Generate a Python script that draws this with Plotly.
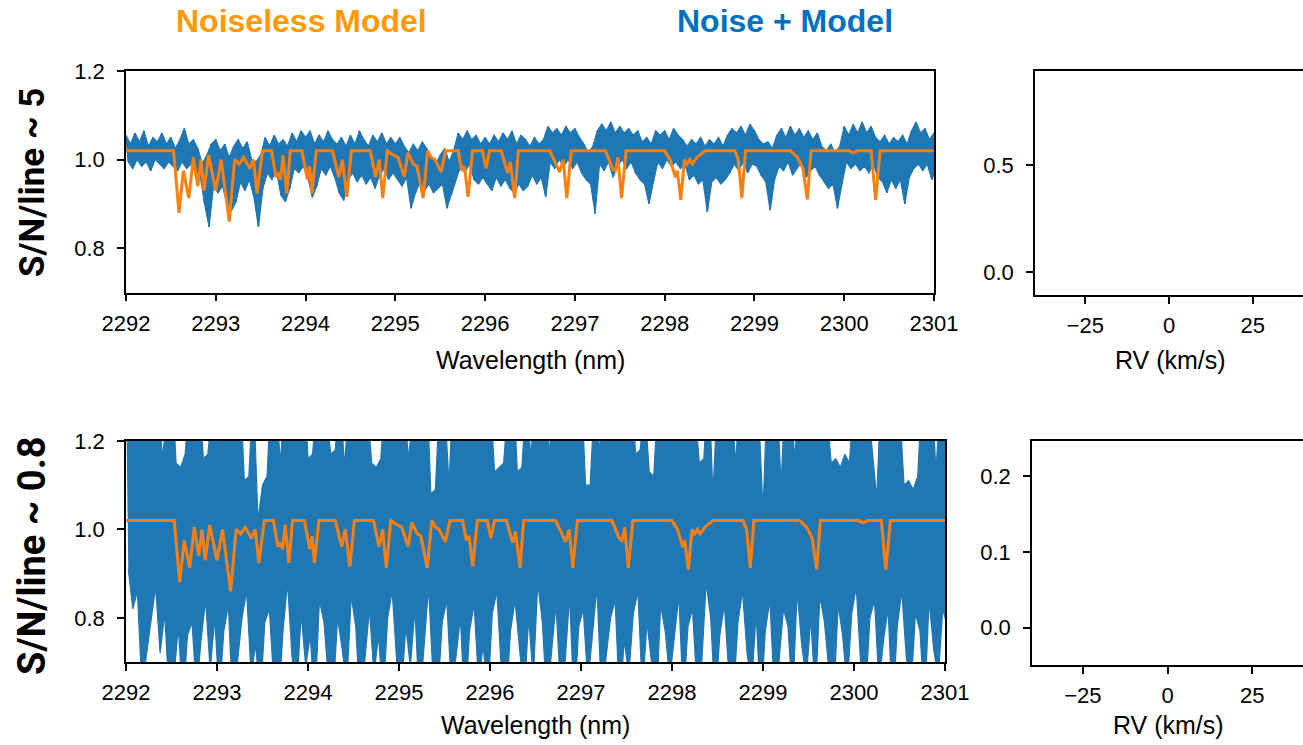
import plotly.graph_objects as go

W, H = 1303, 745

# ---------------- data ----------------
wl_start = 2292.0
env_step = 0.05  # wavelength step of the envelope samples (nm)

# noiseless model: vertices of the orange curve
model_wl = [2292.00, 2292.53, 2292.59, 2292.64, 2292.70, 2292.75, 2292.80, 2292.835, 2292.87, 2292.92,
            2293.00, 2293.06, 2293.15, 2293.21, 2293.26, 2293.31, 2293.38, 2293.42, 2293.46, 2293.52,
            2293.62, 2293.67, 2293.70, 2293.72, 2293.75, 2293.79, 2293.83, 2293.96, 2294.02, 2294.045,
            2294.07, 2294.12, 2294.30, 2294.37, 2294.41, 2294.46, 2294.51, 2294.72, 2294.78, 2294.82,
            2294.86, 2294.91, 2294.98, 2295.03, 2295.10, 2295.14, 2295.20, 2295.24, 2295.31, 2295.36,
            2295.40, 2295.44, 2295.51, 2295.56, 2295.70, 2295.74, 2295.77, 2295.81, 2295.86, 2295.97,
            2296.01, 2296.05, 2296.18, 2296.25, 2296.28, 2296.33, 2296.37, 2296.72, 2296.79, 2296.83,
            2296.87, 2296.91, 2296.96, 2297.34, 2297.42, 2297.45, 2297.48, 2297.52, 2297.57, 2298.00,
            2298.06, 2298.12, 2298.14, 2298.18, 2298.22, 2298.25, 2298.28, 2298.31, 2298.36, 2298.45,
            2298.78, 2298.82, 2298.86, 2298.90, 2299.40, 2299.48, 2299.54, 2299.59, 2299.63, 2300.05,
            2300.10, 2300.15, 2300.30, 2300.35, 2300.40, 2301.00]
model_flux = [1.02, 1.02, 0.88, 0.975, 0.913, 1.005, 0.94, 1.0, 0.93, 1.01,
              0.93, 1.0, 0.86, 1.0, 0.99, 1.005, 0.98, 1.0, 0.924, 1.02,
              1.02, 0.961, 0.97, 0.955, 1.01, 0.924, 1.02, 1.02, 0.955, 0.985,
              0.924, 1.02, 1.02, 0.961, 1.0, 0.916, 1.02, 1.02, 0.961, 1.0,
              0.913, 1.02, 1.01, 1.005, 0.961, 1.015, 0.99, 0.985, 0.913, 1.02,
              1.005, 1.0, 0.972, 1.02, 1.02, 0.975, 0.985, 0.916, 1.02, 1.02,
              0.98, 1.02, 1.02, 0.97, 0.995, 0.913, 1.02, 1.02, 0.99, 0.972,
              1.0, 0.913, 1.02, 1.02, 0.98, 0.975, 1.005, 0.913, 1.02, 1.02,
              1.0, 0.96, 0.975, 0.909, 1.0, 0.99, 1.0, 0.99, 1.005, 1.02,
              1.02, 1.0, 0.913, 1.02, 1.02, 1.005, 0.98, 0.91, 1.02, 1.02,
              1.015, 1.02, 1.02, 0.909, 1.02, 1.02]

# noisy spectrum, S/N ~ 5: upper / lower excursions every 0.05 nm
top_upper = [1.055, 1.035, 1.06, 1.04, 1.065, 1.03, 1.05, 1.04, 1.06, 1.035, 1.05, 1.025, 1.045, 1.07, 1.035, 1.045, 1.025, 0.99, 1.01, 1.035,
             1.045, 1.02, 1.035, 1.005, 1.03, 1.045, 1.025, 1.04, 1.0, 0.995, 1.01, 1.05, 1.03, 1.055, 1.035, 1.045, 1.03, 1.06, 1.04, 1.065,
             1.05, 1.065, 1.035, 1.055, 1.04, 1.065, 1.045, 1.035, 1.05, 1.03, 1.055, 1.035, 1.065, 1.045, 1.03, 1.055, 1.04, 1.06, 1.035, 1.05,
             1.035, 1.05, 1.03, 1.015, 1.035, 1.02, 1.04, 1.025, 1.005, 0.99, 1.01, 1.025, 0.995, 1.02, 1.06, 1.045, 1.065, 1.045, 1.055, 1.035,
             1.05, 1.035, 1.055, 1.04, 1.06, 1.045, 1.065, 1.035, 1.055, 1.045, 1.03, 1.05, 1.035, 1.045, 1.075, 1.06, 1.07, 1.055, 1.075, 1.06,
             1.07, 1.05, 1.035, 1.015, 1.03, 1.065, 1.08, 1.065, 1.085, 1.06, 1.075, 1.06, 1.07, 1.055, 1.065, 1.04, 1.05, 1.035, 1.065, 1.055,
             1.065, 1.045, 1.07, 1.055, 1.045, 1.03, 1.045, 1.035, 1.05, 1.03, 1.045, 1.035, 1.05, 1.03, 1.055, 1.07, 1.06, 1.075, 1.055, 1.08,
             1.065, 1.045, 1.035, 1.04, 1.025, 1.055, 1.07, 1.05, 1.075, 1.055, 1.07, 1.05, 1.065, 1.045, 1.06, 1.03, 1.02, 1.035, 1.015, 1.03,
             1.075, 1.055, 1.08, 1.06, 1.085, 1.06, 1.075, 1.05, 1.04, 1.055, 1.035, 1.05, 1.04, 1.055, 1.035, 1.065, 1.085, 1.06, 1.07, 1.045, 1.06]
top_lower = [0.995, 0.98, 1.0, 0.985, 0.995, 0.975, 1.0, 0.99, 0.98, 0.995, 0.985, 0.975, 0.995, 0.98, 0.99, 0.975, 0.965, 0.9, 0.848, 0.94,
             0.925, 0.94, 0.9, 0.885, 0.905, 0.95, 0.93, 0.955, 0.915, 0.848, 0.935, 0.97, 0.955, 0.975, 0.92, 0.905, 0.935, 0.98, 0.97, 0.985,
             0.96, 0.915, 0.94, 0.98, 0.965, 0.985, 0.96, 0.925, 0.908, 0.955, 0.97, 0.95, 0.965, 0.945, 0.96, 0.935, 0.965, 0.98, 0.955, 0.97,
             0.955, 0.94, 0.96, 0.89, 0.925, 0.95, 0.93, 0.945, 0.925, 0.935, 0.945, 0.89, 0.92, 0.955, 0.985, 0.97, 0.99, 0.955, 0.945, 0.96,
             0.945, 0.93, 0.96, 0.94, 0.955, 0.935, 0.925, 0.945, 0.93, 0.94, 0.965, 0.945, 0.96, 0.916, 0.995, 0.98, 1.0, 0.985, 1.0, 0.98,
             0.995, 0.97, 0.955, 0.945, 0.878, 0.99, 0.975, 0.995, 0.96, 0.985, 1.0, 0.98, 0.995, 0.97, 0.955, 0.945, 0.90, 0.95, 0.995, 0.98,
             1.0, 0.985, 0.995, 0.98, 0.99, 0.955, 0.965, 0.945, 0.955, 0.882, 0.95, 0.96, 0.945, 0.955, 0.97, 0.99, 0.975, 0.995, 0.97, 0.99,
             0.985, 0.965, 0.95, 0.886, 0.955, 0.985, 0.975, 0.995, 0.965, 0.98, 0.995, 0.96, 0.975, 0.985, 0.965, 0.95, 0.935, 0.945, 0.89, 0.945,
             0.995, 0.98, 0.99, 0.975, 0.985, 0.97, 0.99, 0.96, 0.95, 0.925, 0.955, 0.935, 0.955, 0.90, 0.96, 0.98, 0.99, 0.975, 0.99, 0.955, 0.975]

# noisy spectrum, S/N ~ 0.8
bot_upper = [1.32, 1.28, 1.35, 1.26, 1.30, 1.38, 1.27, 1.33, 1.16, 1.29, 1.36, 1.15, 1.14, 1.17, 1.31, 1.27, 1.34, 1.16, 1.17, 1.29,
             1.33, 1.26, 1.37, 1.28, 1.30, 1.35, 1.11, 1.12, 1.32, 1.02, 1.10, 1.12, 1.34, 1.27, 1.15, 1.36, 1.29, 1.31, 1.26, 1.38,
             1.16, 1.17, 1.30, 1.34, 1.27, 1.17, 1.18, 1.33, 1.14, 1.29, 1.35, 1.26, 1.32, 1.28, 1.15, 1.14, 1.16, 1.31, 1.37, 1.27,
             1.30, 1.34, 1.16, 1.28, 1.33, 1.26, 1.36, 1.08, 1.09, 1.31, 1.29, 1.10, 1.35, 1.27, 1.32, 1.38, 1.26, 1.30, 1.34, 1.28,
             1.31, 1.13, 1.14, 1.15, 1.29, 1.36, 1.13, 1.14, 1.30, 1.16, 1.33, 1.27, 1.35, 1.17, 1.28, 1.31, 1.37, 1.26, 1.32, 1.29,
             1.34, 1.10, 1.10, 1.30, 1.18, 1.27, 1.36, 1.29, 1.33, 1.26, 1.31, 1.35, 1.17, 1.18, 1.28, 1.13, 1.12, 1.32, 1.27, 1.34,
             1.29, 1.36, 1.26, 1.31, 1.33, 1.28, 1.15, 1.16, 1.35, 1.08, 1.30, 1.27, 1.34, 1.29, 1.15, 1.32, 1.26, 1.37, 1.30, 1.28,
             1.04, 1.33, 1.27, 1.31, 1.10, 1.35, 1.29, 1.16, 1.32, 1.26, 1.34, 1.28, 1.30, 1.36, 1.27, 1.15, 1.16, 1.14, 1.17, 1.15,
             1.31, 1.27, 1.35, 1.29, 1.18, 1.07, 1.33, 1.26, 1.30, 1.34, 1.28, 1.10, 1.11, 1.09, 1.12, 1.32, 1.27, 1.35, 1.13, 1.30, 1.29]
bot_lower = [0.91, 0.82, 0.86, 0.64, 0.73, 0.80, 0.87, 0.72, 0.81, 0.62, 0.66, 0.78, 0.60, 0.76, 0.79, 0.63, 0.75, 0.84, 0.68, 0.80,
             0.62, 0.77, 0.83, 0.58, 0.70, 0.80, 0.86, 0.67, 0.74, 0.61, 0.79, 0.82, 0.65, 0.60, 0.77, 0.88, 0.71, 0.63, 0.81, 0.69,
             0.76, 0.60, 0.84, 0.79, 0.66, 0.62, 0.80, 0.73, 0.64, 0.85, 0.78, 0.59, 0.72, 0.82, 0.67, 0.76, 0.61, 0.80, 0.86, 0.70,
             0.63, 0.78, 0.69, 0.82, 0.60, 0.75, 0.87, 0.66, 0.62, 0.79, 0.84, 0.64, 0.71, 0.80, 0.58, 0.77, 0.83, 0.65, 0.74, 0.61,
             0.81, 0.86, 0.68, 0.60, 0.77, 0.84, 0.73, 0.62, 0.80, 0.66, 0.88, 0.79, 0.61, 0.74, 0.83, 0.64, 0.70, 0.85, 0.59, 0.78,
             0.82, 0.65, 0.76, 0.87, 0.62, 0.71, 0.80, 0.84, 0.60, 0.75, 0.67, 0.81, 0.86, 0.63, 0.79, 0.70, 0.58, 0.83, 0.77, 0.66,
             0.74, 0.85, 0.61, 0.78, 0.82, 0.64, 0.69, 0.88, 0.80, 0.60, 0.76, 0.83, 0.67, 0.62, 0.79, 0.86, 0.72, 0.65, 0.81, 0.59,
             0.77, 0.84, 0.63, 0.70, 0.82, 0.78, 0.61, 0.86, 0.74, 0.66, 0.80, 0.62, 0.85, 0.79, 0.68, 0.60, 0.83, 0.76, 0.64, 0.81,
             0.87, 0.69, 0.62, 0.80, 0.84, 0.65, 0.75, 0.82, 0.58, 0.78, 0.86, 0.71, 0.63, 0.81, 0.77, 0.60, 0.84, 0.73, 0.66, 0.82, 0.78]

wl_ticks = [2292, 2293, 2294, 2295, 2296, 2297, 2298, 2299, 2300, 2301]
flux_ticks = [0.8, 1.0, 1.2]
rv_ticks = [-25, 0, 25]
ccf_top_ticks = [0.0, 0.5]
ccf_bot_ticks = [0.0, 0.1, 0.2]

BLUE = "#1f77b4"
ORANGE = "#ff7f0e"


def band(upper, lower):
    """Outline of the dense noisy trace: upper excursions left->right, lower ones back."""
    xu = [wl_start + env_step * i for i in range(len(upper))]
    xl = [wl_start + env_step * i + env_step / 2 for i in range(len(lower))]
    return xu + xl[::-1], list(upper) + list(lower)[::-1]


def zigzag(upper, lower):
    xs, ys = [], []
    for i, (u, l) in enumerate(zip(upper, lower)):
        w = wl_start + env_step * i
        xs += [w, w + env_step / 2]
        ys += [u, l]
    return xs, ys


def fx(p):
    return p / W


def fy(p):
    return 1 - p / H


tick_font = dict(family="Liberation Sans, Arial, sans-serif", size=22, color="black")

fig = go.Figure()

tx, ty = band(top_upper, top_lower)
bx, by = band(bot_upper, bot_lower)
tzx, tzy = zigzag(top_upper, top_lower)

fig.add_trace(go.Scatter(x=tx, y=ty, mode="lines", fill="toself", fillcolor=BLUE,
                         line=dict(color=BLUE, width=1.2), xaxis="x", yaxis="y", showlegend=False))
fig.add_trace(go.Scatter(x=tzx, y=tzy, mode="lines", line=dict(color=BLUE, width=1.6),
                         xaxis="x", yaxis="y", showlegend=False))
fig.add_trace(go.Scatter(x=model_wl, y=model_flux, mode="lines", line=dict(color=ORANGE, width=3),
                         xaxis="x", yaxis="y", showlegend=False))
fig.add_trace(go.Scatter(x=bx, y=by, mode="lines", fill="toself", fillcolor=BLUE,
                         line=dict(color=BLUE, width=1.2), xaxis="x3", yaxis="y3", showlegend=False))
fig.add_trace(go.Scatter(x=model_wl, y=model_flux, mode="lines", line=dict(color=ORANGE, width=3),
                         xaxis="x3", yaxis="y3", showlegend=False))
# empty RV panels
fig.add_trace(go.Scatter(x=[], y=[], mode="lines", xaxis="x2", yaxis="y2", showlegend=False))
fig.add_trace(go.Scatter(x=[], y=[], mode="lines", xaxis="x4", yaxis="y4", showlegend=False))

common = dict(showline=True, linecolor="black", linewidth=1.5, ticks="outside", ticklen=7,
              tickwidth=1.5, tickcolor="black", showgrid=False, zeroline=False,
              tickfont=tick_font, fixedrange=True, automargin=False)

wl_text = [str(t) for t in wl_ticks]
rv_text = [str(t).replace("-", "\u2212") for t in rv_ticks]

fig.update_layout(
    template="none",
    width=W, height=H,
    margin=dict(l=0, r=0, t=0, b=0, pad=0, autoexpand=False),
    paper_bgcolor="white", plot_bgcolor="white",
    showlegend=False,
    xaxis=dict(common, domain=[fx(126), fx(934)], range=[2292, 2301], anchor="y", mirror=True,
               tickvals=wl_ticks, ticktext=wl_text, ticklabelstandoff=3),
    yaxis=dict(common, domain=[fy(292.5), fy(71)], range=[0.7, 1.2], anchor="x", mirror=True,
               tickvals=flux_ticks, ticktext=["%.1f" % v for v in flux_ticks], ticklabelstandoff=8),
    xaxis2=dict(common, domain=[fx(1035), 1.0], range=[-40, 40], anchor="y2", mirror=True,
                tickvals=rv_ticks, ticktext=rv_text, ticklabelstandoff=3),
    yaxis2=dict(common, domain=[fy(295), fy(71)], range=[-0.107, 0.939], anchor="x2", mirror=False,
                tickvals=ccf_top_ticks, ticktext=["%.1f" % v for v in ccf_top_ticks], ticklabelstandoff=8),
    xaxis3=dict(common, domain=[fx(126), fx(945)], range=[2292, 2301], anchor="y3", mirror=True,
                tickvals=wl_ticks, ticktext=wl_text, ticklabelstandoff=3),
    yaxis3=dict(common, domain=[fy(662), fy(441)], range=[0.7, 1.2], anchor="x3", mirror=True,
                tickvals=flux_ticks, ticktext=["%.1f" % v for v in flux_ticks], ticklabelstandoff=8),
    xaxis4=dict(common, domain=[fx(1032), 1.0], range=[-40, 40], anchor="y4", mirror=True,
                tickvals=rv_ticks, ticktext=rv_text, ticklabelstandoff=3),
    yaxis4=dict(common, domain=[fy(665), fy(441)], range=[-0.049, 0.246], anchor="x4", mirror=False,
                tickvals=ccf_bot_ticks, ticktext=["%.1f" % v for v in ccf_bot_ticks], ticklabelstandoff=8),
)

label_font = dict(family="Liberation Sans, Arial, sans-serif", size=25, color="black")
head_font = "Liberation Sans, Arial, sans-serif"
row_font = "Roboto, Liberation Sans, sans-serif"

annots = [
    dict(text="<b>Noiseless Model</b>", x=fx(301), y=fy(21),
         font=dict(family=head_font, size=32, color="#FF9900")),
    dict(text="<b>Noise + Model</b>", x=fx(785), y=fy(21),
         font=dict(family=head_font, size=32, color="#0070C0")),
    dict(text="<b>S/N/line ~ 5</b>", x=fx(32), y=fy(183), textangle=-90,
         font=dict(family=row_font, size=35, color="black")),
    dict(text="<b>S/N/line ~ 0.8</b>", x=fx(32), y=fy(556), textangle=-90,
         font=dict(family=row_font, size=38, color="black")),
    dict(text="Wavelength (nm)", x=fx(530), y=fy(360), font=label_font),
    dict(text="RV (km/s)", x=fx(1170), y=fy(360), font=label_font),
    dict(text="Wavelength (nm)", x=fx(535), y=fy(725), font=label_font),
    dict(text="RV (km/s)", x=fx(1168), y=fy(725), font=label_font),
]
for a in annots:
    a.update(xref="paper", yref="paper", showarrow=False, xanchor="center", yanchor="middle")
fig.update_layout(annotations=annots)

fig.write_html("out.html")
